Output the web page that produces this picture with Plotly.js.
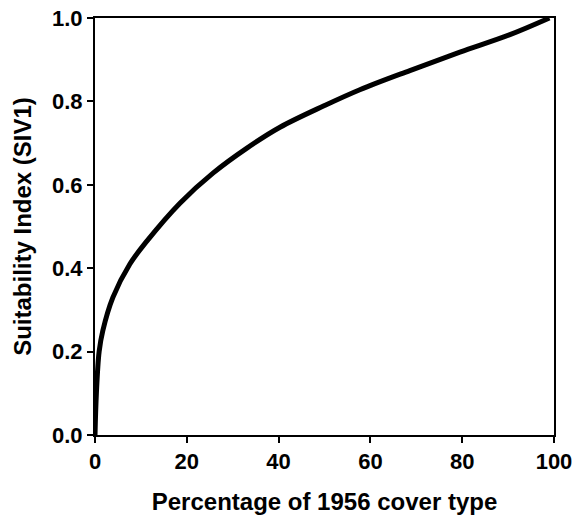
<!DOCTYPE html>
<html>
<head>
<meta charset="utf-8">
<script src="https://cdn.plot.ly/plotly-3.0.1.min.js"></script>
<style>html,body{margin:0;padding:0;background:#fff;}#chart{width:577px;height:518px;}</style>
</head>
<body>
<div id="chart"></div>
<script>
// Percentage of 1956 cover type (x) vs Suitability Index SIV1 (y)
const coverPct = [0, 0.3, 0.9, 1.7, 3.9, 7.6, 11.3, 18.5, 25.7, 33.1, 40.3, 50, 57.7, 68.6, 79.5, 90.4, 99];
const siv1     = [0, 0.10, 0.20, 0.25, 0.33, 0.41, 0.465, 0.556, 0.628, 0.688, 0.738, 0.79, 0.828, 0.874, 0.918, 0.96, 1.0];
const xTicks = [0, 20, 40, 60, 80, 100];
const yTicks = [0.0, 0.2, 0.4, 0.6, 0.8, 1.0];
const xTitle = 'Percentage of 1956 cover type';
const yTitle = 'Suitability Index (SIV1)';

const fontFam = 'Liberation Sans, Arial, Helvetica, sans-serif';

const trace = {
  x: coverPct, y: siv1, type: 'scatter', mode: 'lines',
  line: {color: '#000', width: 5, shape: 'spline', smoothing: 1.0},
  hoverinfo: 'none', cliponaxis: false
};

const layout = {
  width: 577, height: 518,
  margin: {l: 95, r: 23, t: 18, b: 83},
  paper_bgcolor: '#fff', plot_bgcolor: '#fff',
  showlegend: false,
  font: {family: fontFam, color: '#000'},
  xaxis: {
    range: [0, 100], tickvals: xTicks, ticktext: xTicks.map(String),
    showgrid: false, zeroline: false, showline: true, mirror: true,
    linecolor: '#000', linewidth: 2,
    ticks: 'outside', ticklen: 6, tickwidth: 2, tickcolor: '#000',
    tickfont: {family: fontFam, size: 22, weight: 'bold', color: '#000'},
    title: {text: xTitle, font: {family: fontFam, size: 24, weight: 'bold', color: '#000'}, standoff: 20}
  },
  yaxis: {
    range: [0, 1], tickvals: yTicks, ticktext: yTicks.map(v => v.toFixed(1)),
    showgrid: false, zeroline: false, showline: true, mirror: true,
    linecolor: '#000', linewidth: 2,
    ticks: 'outside', ticklen: 6, tickwidth: 2, tickcolor: '#000',
    tickfont: {family: fontFam, size: 22, weight: 'bold', color: '#000'},
    title: {text: yTitle, font: {family: fontFam, size: 24, weight: 'bold', color: '#000'}, standoff: 14}
  }
};

Plotly.newPlot('chart', [trace], layout, {displayModeBar: false, staticPlot: true});
</script>
</body>
</html>
